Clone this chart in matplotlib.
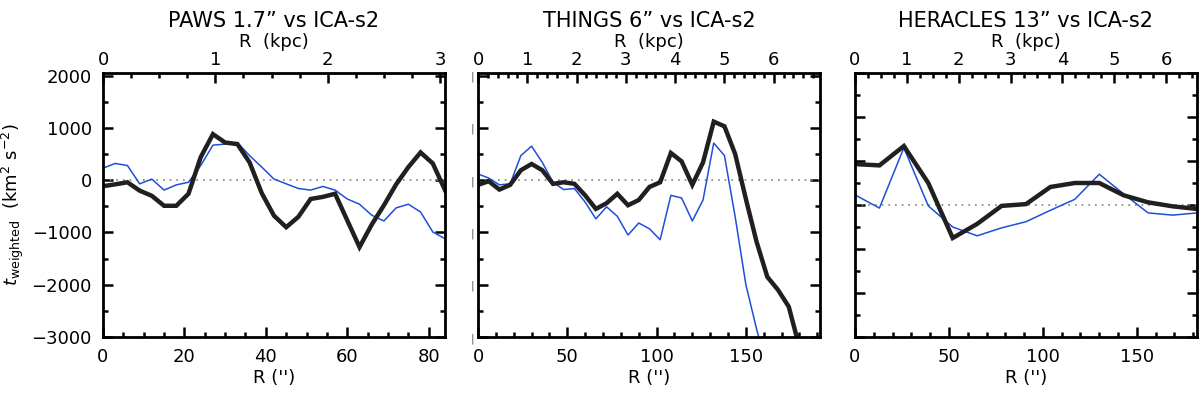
import numpy as np
import matplotlib
matplotlib.use('Agg')
from matplotlib import pyplot as plt
from matplotlib.ticker import MultipleLocator

plt.rcParams['font.family'] = ['DejaVu Sans']
plt.rcParams['mathtext.fontset'] = 'dejavusans'

ARCSEC_PER_KPC = 27.6

titles = ['PAWS 1.7\u201d vs ICA-s2', 'THINGS 6\u201d vs ICA-s2', 'HERACLES 13\u201d vs ICA-s2']

# PAWS
paws_r = np.arange(0, 85, 3)
paws_black = [-115, -80, -40, -200, -300, -490, -490, -260, 440, 880, 720, 690, 340, -250, -680,
              -900, -700, -360, -320, -260, -770, -1280, -850, -480, -80, 250, 530, 320, -190]
paws_blue = [230, 320, 280, -70, 20, -190, -90, -40, 280, 670, 690, 720, 470, 250, 20,
             -70, -160, -190, -120, -190, -360, -460, -670, -780, -530, -460, -610, -990, -1120]

# THINGS
things_r = np.arange(0, 181, 6)
things_black = [-90, -20, -180, -90, 190, 310, 190, -70, -40, -70, -290, -550, -440, -260, -480,
                -380, -130, -40, 520, 360, -90, 340, 1120, 1030, 500, -360, -1180, -1850, -2100,
                -2420, -3200]
things_r_blue = np.arange(0, 163, 6)
things_blue = [120, 40, -90, -70, 470, 650, 340, -40, -180, -160, -420, -740, -510, -690, -1050,
               -820, -930, -1140, -290, -340, -780, -380, 710, 470, -700, -2000, -2850, -3600]

# HERACLES
her_r = np.arange(0, 183, 13)
her_black = [930, 900, 1340, 500, -750, -430, -20, 20, 410, 500, 500, 220, 60, -30, -90]
her_blue = [230, -70, 1300, -20, -500, -700, -520, -380, -120, 130, 700, 250, -180, -230, -180]

panels = [
    (paws_r, paws_black, paws_r, paws_blue, 84, 20, 5, 1, 0.25),
    (things_r, things_black, things_r_blue, things_blue, 191.5, 50, 10, 1, 0.2),
    (her_r, her_black, her_r, her_blue, 182, 50, 10, 1, 0.25),
]

fig = plt.figure(figsize=(12, 3.93), dpi=100)
lefts = [103 / 1200, 478 / 1200, 855 / 1200]
width = 342 / 1200
bottom = 1 - 337 / 393
height = (337 - 73) / 393

for i, (rb, yb, rl, yl, xmax, xmaj, xmin, kmaj, kmin) in enumerate(panels):
    ax = fig.add_axes([lefts[i], bottom, width, height])
    ax.axhline(0, color='gray', ls=(0, (1, 3)), lw=1.2)
    ax.plot(rl, yl, color='#1f4fd8', lw=1.1)
    ax.plot(rb, yb, color='#202020', lw=3.2, solid_joinstyle='miter')
    ax.set_xlim(0, xmax)
    if i == 2:
        ax.set_ylim(-3000, 3000)
    else:
        ax.set_ylim(-3000, 2050)
    ax.xaxis.set_major_locator(MultipleLocator(xmaj))
    ax.xaxis.set_minor_locator(MultipleLocator(xmin))
    ax.yaxis.set_major_locator(MultipleLocator(1000))
    ax.yaxis.set_minor_locator(MultipleLocator(500))
    ax.tick_params(which='both', direction='in', top=False, right=True, width=1.8)
    ax.tick_params(which='major', length=7, labelsize=13, pad=8)
    ax.tick_params(which='minor', length=3.5)
    for s in ax.spines.values():
        s.set_linewidth(2)
    ax.set_xlabel("R ('')", fontsize=13, labelpad=2)
    if i == 0:
        ax.set_ylabel(r'$t_{\rm weighted}$  (km$^{2}$ s$^{-2}$)', fontsize=13, labelpad=4)
    elif i == 1:
        ax.set_yticks(ax.get_yticks())
        ax.set_yticklabels(['|'] * len(ax.get_yticks()), fontsize=8, color='#555555')
        ax.tick_params(axis='y', pad=3)
        ax.set_ylim(-3000, 2050)
    else:
        ax.set_yticklabels([])

    ax2 = ax.twiny()
    ax2.set_xlim(0, xmax / ARCSEC_PER_KPC)
    ax2.xaxis.set_major_locator(MultipleLocator(kmaj))
    ax2.xaxis.set_minor_locator(MultipleLocator(kmin))
    ax2.tick_params(which='both', direction='in', width=1.8)
    ax2.tick_params(which='major', length=7, labelsize=13, pad=3)
    ax2.tick_params(which='minor', length=3.5)
    ax2.set_xlabel('R  (kpc)', fontsize=13, labelpad=3)
    ax2.set_title(titles[i], fontsize=15, pad=4)

fig.savefig('out.png', dpi=100)
